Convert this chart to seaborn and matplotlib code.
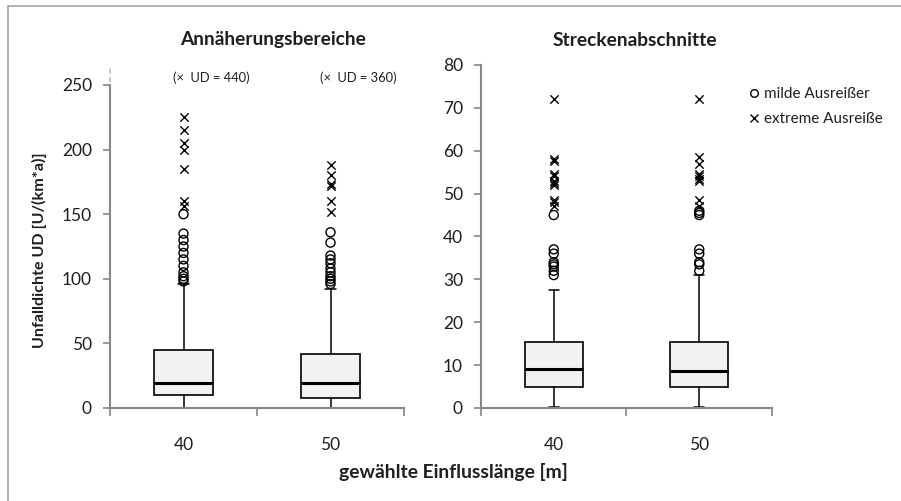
import matplotlib
matplotlib.use("Agg")
import matplotlib.pyplot as plt
import seaborn as sns
import pandas as pd
from matplotlib.lines import Line2D

# ---------------- data ----------------
categories = ["40", "50"]

# Annäherungsbereiche: box statistics (whisker low, Q1, median, Q3, whisker high)
ann_whislo = [0, 0]
ann_q1 = [10, 8]
ann_med = [19, 19]
ann_q3 = [45, 42]
ann_whishi = [96, 92]
ann_mild_40 = [150, 135, 130, 125, 120, 115, 110, 105, 102, 100, 98]
ann_mild_50 = [136, 128, 118, 115, 112, 108, 105, 102, 100, 98, 96]
ann_ext_40 = [225, 215, 205, 200, 185, 160, 156]
ann_ext_50 = [188, 180, 173, 172, 160, 152]
ann_notes = ["(\u00d7  UD = 440)", "(\u00d7  UD = 360)"]

# Streckenabschnitte
str_whislo = [0.2, 0.2]
str_q1 = [5, 5]
str_med = [9.2, 8.7]
str_q3 = [15.5, 15.5]
str_whishi = [27.5, 31]
str_mild_40 = [45, 37, 36, 34, 33.5, 33, 32, 31]
str_mild_50 = [46, 45.5, 45, 37, 36, 34, 33.5, 32]
str_ext_40 = [72, 58, 57.5, 54.5, 54, 53, 52.5, 52, 48.5, 48, 47]
str_ext_50 = [72, 58.5, 57, 54.5, 54, 53.5, 53, 48.5, 47]

titles = ["Annäherungsbereiche", "Streckenabschnitte"]
ylabel = "Unfalldichte UD [U/(km*a)]"
xlabel = "gewählte Einflusslänge [m]"
legend_labels = ["milde Ausreißer", "extreme Ausreiße"]

# ---------------- style ----------------
sns.set_theme(style="white")
plt.rcParams["font.family"] = ["Lato", "DejaVu Sans"]

W, H = 901, 501
fig = plt.figure(figsize=(W / 100, H / 100), dpi=100)

def px_axes(x0, x1, ytop, ybot):
    return fig.add_axes([x0 / W, 1 - ybot / H, (x1 - x0) / W, (ybot - ytop) / H])

axL = px_axes(110, 404, 85, 408)
axR = px_axes(481, 772, 65, 408)

axis_gray = "#868686"
txt = "#1f1f1f"

def draw(ax, whislo, q1, med, q3, whishi, mild, ext, ymax, yticks):
    stats = []
    for i in range(len(categories)):
        stats.append(dict(whislo=whislo[i], q1=q1[i], med=med[i], q3=q3[i],
                          whishi=whishi[i], fliers=[], label=categories[i]))
    ax.bxp(stats, positions=range(len(categories)), widths=0.40, patch_artist=True,
           showfliers=False, capwidths=0.07,
           boxprops=dict(facecolor="#F2F2F2", edgecolor="black", linewidth=1.2),
           medianprops=dict(color="black", linewidth=2.2),
           whiskerprops=dict(color="black", linewidth=1.1),
           capprops=dict(color="black", linewidth=1.1))
    dm = pd.DataFrame({"cat": [categories[0]] * len(mild[0]) + [categories[1]] * len(mild[1]),
                       "v": list(mild[0]) + list(mild[1])})
    de = pd.DataFrame({"cat": [categories[0]] * len(ext[0]) + [categories[1]] * len(ext[1]),
                       "v": list(ext[0]) + list(ext[1])})
    sns.stripplot(data=dm, x="cat", y="v", order=categories, jitter=False, ax=ax,
                  marker="o", size=6.5, facecolor="none", edgecolor="black",
                  linewidth=1.0, color="none")
    sns.stripplot(data=de, x="cat", y="v", order=categories, jitter=False, ax=ax,
                  marker="x", size=6, color="black", linewidth=1.0)
    ax.set_xlim(-0.5, 1.5)
    ax.set_ylim(0, ymax)
    ax.set_yticks(yticks)
    ax.set_xticks([0, 1])
    ax.set_xticklabels(categories)
    ax.set_xlabel("")
    ax.set_ylabel("")
    for s in ["top", "right"]:
        ax.spines[s].set_visible(False)
    for s in ["left", "bottom"]:
        ax.spines[s].set_color(axis_gray)
        ax.spines[s].set_linewidth(1.5)
    ax.tick_params(axis="y", which="both", left=True, length=5, width=1.2,
                   color=axis_gray, labelsize=12.5, labelcolor=txt, pad=8)
    ax.tick_params(axis="x", which="major", bottom=False, labelsize=12.5,
                   labelcolor=txt, pad=15)
    ax.set_xticks([-0.5, 0.5, 1.5], minor=True)
    ax.tick_params(axis="x", which="minor", bottom=True, length=6, width=1.2,
                   color=axis_gray, direction="out")
    ax.patch.set_alpha(0)

draw(axL, ann_whislo, ann_q1, ann_med, ann_q3, ann_whishi,
     (ann_mild_40, ann_mild_50), (ann_ext_40, ann_ext_50), 250, [0, 50, 100, 150, 200, 250])
draw(axR, str_whislo, str_q1, str_med, str_q3, str_whishi,
     (str_mild_40, str_mild_50), (str_ext_40, str_ext_50), 80, list(range(0, 81, 10)))

# axis break indication above 250
axL.plot([-0.5, -0.5], [252, 265], color="#BFBFBF", linestyle=(0, (3, 2)),
         linewidth=1.2, clip_on=False)

# notes for very large values
for i, note in enumerate(ann_notes):
    axL.text(i + 0.19, 255.5, note, ha="center", va="center", fontsize=9.3,
             color=txt, clip_on=False)

# titles
fig.text(273 / W, 1 - 40 / H, titles[0], ha="center", va="center",
         fontsize=13.8, fontweight="bold", color=txt)
fig.text(635 / W, 1 - 40 / H, titles[1], ha="center", va="center",
         fontsize=13.8, fontweight="bold", color=txt)
fig.text(39 / W, 1 - 250 / H, ylabel, ha="center", va="center", rotation=90,
         fontsize=11.6, fontweight="bold", color=txt)
fig.text(453 / W, 1 - 472 / H, xlabel, ha="center", va="center",
         fontsize=13.9, fontweight="bold", color=txt)

# legend
handles = [Line2D([], [], marker="o", linestyle="none", markerfacecolor="none",
                  markeredgecolor="black", markersize=5.5, markeredgewidth=1.0),
           Line2D([], [], marker="x", linestyle="none", color="black",
                  markersize=6, markeredgewidth=1.0)]
fig.legend(handles, legend_labels, loc="upper left",
           bbox_to_anchor=(749 / W, 1 - 87 / H), frameon=False, fontsize=11,
           handlelength=0.6, handletextpad=0.4, labelspacing=0.75,
           borderaxespad=0, borderpad=0, labelcolor=txt)

# chart frame (top and left edges)
fig.add_artist(Line2D([8 / W, 8 / W], [0, 1 - 6 / H], color="#A6A6A6", linewidth=1.2,
                      transform=fig.transFigure))
fig.add_artist(Line2D([8 / W, 1], [1 - 6 / H, 1 - 6 / H], color="#A6A6A6", linewidth=1.2,
                      transform=fig.transFigure))

fig.savefig("out.png", dpi=100, facecolor="white")
